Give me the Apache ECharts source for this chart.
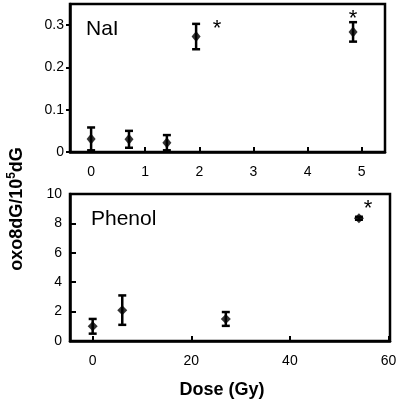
<!DOCTYPE html>
<html>
<head>
<meta charset="utf-8">
<script src="https://cdn.jsdelivr.net/npm/echarts@6/dist/echarts.min.js"></script>
<style>
html,body{margin:0;padding:0;background:#fff;}
#c{width:400px;height:405px;}
</style>
</head>
<body>
<div id="c"></div>
<script>
// ---- data ----
const naiDose = [0, 0.7, 1.4, 1.94, 4.84];
const naiMean = [0.031, 0.030, 0.022, 0.273, 0.284];
const naiErr  = [0.027, 0.020, 0.018, 0.030, 0.023];
const naiSig  = [false, false, false, true, true];

const phenolDose = [0, 6, 27, 54];
const phenolMean = [1.0, 2.1, 1.5, 8.35];
const phenolErr  = [0.5, 1.0, 0.47, 0.1];
const phenolSig  = [false, false, false, true];

const naiXTicks = [0, 1, 2, 3, 4, 5];
const naiYTicks = [0, 0.1, 0.2, 0.3];
const phenolXTicks = [0, 20, 40, 60];
const phenolYTicks = [0, 2, 4, 6, 8, 10];

// ---- styles ----
const FONT = '"Liberation Sans", Arial, Helvetica, sans-serif';
const starOffsets = {
  nai: {3: [21, -8], 4: [0, -13]},
  phenol: {3: [9, -9]}
};

function rows(x, m, e, s) {
  return x.map((v, i) => [v, m[i], e[i], s[i] ? 1 : 0]);
}

function makeErrRender(key) {
  return function (params, api) {
    const x = api.value(0), y = api.value(1), e = api.value(2), sig = api.value(3);
    const top = api.coord([x, y + e]);
    const bot = api.coord([x, y - e]);
    const c = api.coord([x, y]);
    const cap = 4;
    const ls = {stroke: '#000', lineWidth: 2.5};
    const ch = [
      {type: 'line', shape: {x1: top[0], y1: top[1], x2: bot[0], y2: bot[1]}, style: ls},
      {type: 'line', shape: {x1: top[0] - cap, y1: top[1], x2: top[0] + cap, y2: top[1]}, style: ls},
      {type: 'line', shape: {x1: bot[0] - cap, y1: bot[1], x2: bot[0] + cap, y2: bot[1]}, style: ls}
    ];
    if (sig) {
      const off = (starOffsets[key] || {})[params.dataIndex] || [0, -15];
      ch.push({type: 'text', x: c[0] + off[0], y: c[1] + off[1],
        style: {text: '*', fontSize: 22, fontFamily: FONT, fill: '#000', align: 'center', verticalAlign: 'middle'}});
    }
    return {type: 'group', children: ch};
  };
}

const axisLineStyle = {show: true, onZero: false, lineStyle: {color: '#000', width: 2.5}};
const labelStyle = {color: '#000', fontSize: 14, fontFamily: FONT};

const option = {
  animation: false,
  backgroundColor: '#fff',
  grid: [
    {left: 70, top: 4, width: 315, height: 148, show: true, borderColor: '#000', borderWidth: 2.5, backgroundColor: 'transparent'},
    {left: 70, top: 194, width: 320, height: 147, show: true, borderColor: '#000', borderWidth: 2.5, backgroundColor: 'transparent'}
  ],
  xAxis: [
    {gridIndex: 0, type: 'value', min: -0.39, max: 5.43,
      axisLine: axisLineStyle, splitLine: {show: false},
      axisTick: {show: true, inside: true, length: 5, customValues: naiXTicks, lineStyle: {color: '#000', width: 2}},
      axisLabel: Object.assign({margin: 13, customValues: naiXTicks}, labelStyle)},
    {gridIndex: 1, type: 'value', min: -4.6, max: 60.3,
      axisLine: axisLineStyle, splitLine: {show: false},
      axisTick: {show: true, inside: true, length: 5, customValues: phenolXTicks, lineStyle: {color: '#000', width: 2}},
      axisLabel: Object.assign({margin: 13, customValues: phenolXTicks}, labelStyle)}
  ],
  yAxis: [
    {gridIndex: 0, type: 'value', min: 0, max: 0.35,
      axisLine: axisLineStyle, splitLine: {show: false},
      axisTick: {show: true, inside: false, length: 4, customValues: naiYTicks, lineStyle: {color: '#000', width: 2}},
      axisLabel: Object.assign({margin: 6, customValues: naiYTicks}, labelStyle)},
    {gridIndex: 1, type: 'value', min: 0, max: 10,
      axisLine: axisLineStyle, splitLine: {show: false},
      axisTick: {show: true, inside: true, length: 6, customValues: phenolYTicks, lineStyle: {color: '#000', width: 2}},
      axisLabel: Object.assign({margin: 8, customValues: phenolYTicks}, labelStyle)}
  ],
  series: [
    {type: 'custom', xAxisIndex: 0, yAxisIndex: 0, clip: false,
      data: rows(naiDose, naiMean, naiErr, naiSig), renderItem: makeErrRender('nai')},
    {type: 'scatter', xAxisIndex: 0, yAxisIndex: 0, symbol: 'diamond', symbolSize: [9, 11],
      itemStyle: {color: '#000'}, data: naiDose.map((v, i) => [v, naiMean[i]])},
    {type: 'custom', xAxisIndex: 1, yAxisIndex: 1, clip: false,
      data: rows(phenolDose, phenolMean, phenolErr, phenolSig), renderItem: makeErrRender('phenol')},
    {type: 'scatter', xAxisIndex: 1, yAxisIndex: 1, symbol: 'diamond', symbolSize: [10, 10],
      itemStyle: {color: '#000'}, data: phenolDose.map((v, i) => [v, phenolMean[i]])}
  ],
  graphic: [
    {type: 'text', left: 86, top: 19, style: {text: 'NaI', fontSize: 21, fontFamily: FONT, fill: '#000'}},
    {type: 'text', left: 91, top: 209, style: {text: 'Phenol', fontSize: 21, fontFamily: FONT, fill: '#000'}},
    {type: 'text', x: 222, y: 390, style: {text: 'Dose (Gy)', fontSize: 18, fontWeight: 'bold', fontFamily: FONT, fill: '#000', align: 'center', verticalAlign: 'middle'}},
    {type: 'text', x: 17, y: 209, rotation: Math.PI / 2,
      style: {text: '{a|oxo8dG/10}{b|5}{a|dG}', align: 'center', verticalAlign: 'middle', fill: '#000',
        rich: {
          a: {fontSize: 18, fontWeight: 'bold', fontFamily: FONT, fill: '#000', lineHeight: 22},
          b: {fontSize: 12, fontWeight: 'bold', fontFamily: FONT, fill: '#000', lineHeight: 22, verticalAlign: 'top'}
        }}}
  ]
};

const chart = echarts.init(document.getElementById('c'), null, {renderer: 'canvas'});
chart.setOption(option);
</script>
</body>
</html>
